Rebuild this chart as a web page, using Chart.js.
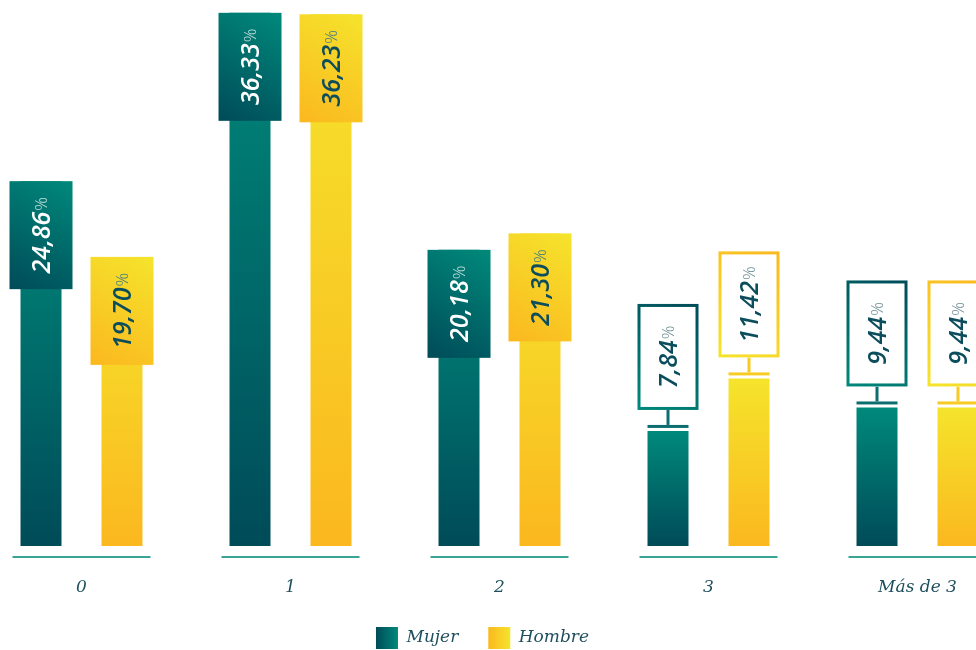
<!DOCTYPE html>
<html><head><meta charset="utf-8">
<script src="https://cdn.jsdelivr.net/npm/chart.js@4"></script>
<style>
html,body{margin:0;padding:0;background:#fff;overflow:hidden;width:976px;height:650px;}
#wrap{position:absolute;left:-57px;top:0;width:1079px;height:659px;}
canvas{display:block;}
</style></head><body>
<div id="wrap"><canvas id="c" width="1079" height="659" style="width:1079px;height:659px"></canvas></div>
<script>
const categories = ['0', '1', '2', '3', 'Más de 3'];
const seriesNames = ['Mujer', 'Hombre'];
const mujer = [24.86, 36.33, 20.18, 7.84, 9.44];
const hombre = [19.70, 36.23, 21.30, 11.42, 9.44];

const TEAL_L = '#00897b', TEAL_D = '#004b58';
const YEL_L = '#f5e42c', YEL_D = '#fbb81f';
const INK = '#0b4d5c';

function barGrad(top, bottom) {
  return (ctx) => {
    const chart = ctx.chart;
    if (!chart.chartArea || ctx.type !== 'data') return bottom;
    const y = chart.scales.y;
    const yt = y.getPixelForValue(ctx.raw), yb = y.getPixelForValue(0);
    const g = chart.ctx.createLinearGradient(0, yt, 0, yb);
    g.addColorStop(0, top); g.addColorStop(1, bottom);
    return g;
  };
}

const styles = [
  {light: TEAL_L, dark: TEAL_D, num: '#ffffff', pct: 'rgba(255,255,255,0.75)', cap: '#0d6e70'},
  {light: YEL_L, dark: YEL_D, num: INK, pct: '#3f7c83', cap: '#f8cb24'}
];

function drawVal(c, cx, cy, v, numColor, pctColor) {
  const num = v.toFixed(2).replace('.', ',');
  c.save();
  c.translate(cx, cy);
  c.rotate(-Math.PI / 2);
  const nf = 'italic 600 25px "Open Sans"', pf = '300 17px "Open Sans"';
  c.font = nf; const nw = c.measureText(num).width;
  c.font = pf; const pw = c.measureText('%').width;
  const total = nw + 1 + pw, sx = -total / 2, base = 9;
  c.textAlign = 'left'; c.textBaseline = 'alphabetic';
  c.font = nf; c.fillStyle = numColor; c.fillText(num, sx, base);
  c.font = pf; c.fillStyle = pctColor; c.fillText('%', sx + nw + 1, base - 3);
  c.restore();
}

const valueBoxes = {
  id: 'valueBoxes',
  afterDatasetsDraw(chart) {
    const c = chart.ctx;
    chart.data.datasets.forEach((ds, di) => {
      const st = styles[di];
      chart.getDatasetMeta(di).data.forEach((bar, i) => {
        const v = ds.data[i];
        const x = bar.x, top = bar.y, base = bar.base, w = bar.width;
        if (base - top > 200) {
          const bw = 63, bh = 108, L = x - bw / 2, T = top;
          const g = c.createLinearGradient(L + bw, T, L, T + bh);
          g.addColorStop(0, st.light); g.addColorStop(1, st.dark);
          c.fillStyle = g; c.fillRect(L, T, bw, bh);
          drawVal(c, x, T + bh / 2, v, st.num, st.pct);
        } else {
          const bw = 61, bh = 106;
          const bottom = top - 21, T = bottom - bh, L = x - bw / 2;
          c.fillStyle = st.cap;
          c.fillRect(x - w / 2, top - 6, w, 3);
          c.fillRect(x - 1.5, bottom, 3, top - 6 - bottom);
          c.fillStyle = '#fff'; c.fillRect(L, T, bw, bh);
          const g = c.createLinearGradient(L + bw, T, L, T + bh);
          g.addColorStop(0, st.dark); g.addColorStop(1, st.light);
          c.strokeStyle = g; c.lineWidth = 3;
          c.strokeRect(L + 1.5, T + 1.5, bw - 3, bh - 3);
          drawVal(c, x, T + bh / 2, v, INK, '#6d8f95');
        }
      });
    });
  },
  afterDraw(chart) {
    const c = chart.ctx, xs = chart.scales.x;
    c.save();
    c.strokeStyle = '#38a596'; c.lineWidth = 2;
    categories.forEach((_, i) => {
      const cx = xs.getPixelForValue(i);
      c.beginPath(); c.moveTo(cx - 69, 557); c.lineTo(cx + 69, 557); c.stroke();
    });
    c.restore();
  },
  beforeDraw(chart) {
    const lg = chart.legend;
    if (!lg || !lg.legendItems || !lg.legendHitBoxes) return;
    const cols = [[TEAL_D, TEAL_L], [YEL_D, YEL_L]];
    lg.legendItems.forEach((it, i) => {
      const hb = lg.legendHitBoxes[i];
      const g = chart.ctx.createLinearGradient(hb.left, 0, hb.left + 22, 0);
      g.addColorStop(0, cols[i][0]); g.addColorStop(1, cols[i][1]);
      it.fillStyle = g;
    });
  }
};

new Chart(document.getElementById('c'), {
  type: 'bar',
  data: {
    labels: categories,
    datasets: [
      {label: seriesNames[0], data: mujer, backgroundColor: barGrad(TEAL_L, TEAL_D), borderWidth: 0},
      {label: seriesNames[1], data: hombre, backgroundColor: barGrad(YEL_L, YEL_D), borderWidth: 0}
    ]
  },
  options: {
    responsive: false,
    animation: false,
    devicePixelRatio: 1,
    categoryPercentage: 0.775,
    barPercentage: 0.5062,
    layout: {padding: {top: 3, left: 0, right: 0, bottom: 0}},
    scales: {
      x: {
        grid: {display: false, drawTicks: false},
        border: {display: false},
        ticks: {padding: 31, color: '#1e4f5e', font: {family: '"DejaVu Serif"', style: 'italic', size: 17}},
        afterFit(s) { s.height = 51; }
      },
      y: {
        min: 0, max: 37,
        grid: {display: false, drawTicks: false},
        border: {display: false},
        ticks: {display: false},
        afterFit(s) { s.width = 34; }
      }
    },
    plugins: {
      tooltip: {enabled: false},
      legend: {
        position: 'bottom',
        labels: {
          boxWidth: 22, boxHeight: 22, padding: 30,
          color: '#1e4f5e',
          font: {family: '"DejaVu Serif"', style: 'italic', size: 17},
          generateLabels(chart) {
            return chart.data.datasets.map((d, i) => ({
              text: d.label, fillStyle: i ? YEL_D : TEAL_D, strokeStyle: 'rgba(0,0,0,0)',
              lineWidth: 0, hidden: false, datasetIndex: i, fontColor: '#1e4f5e'
            }));
          }
        }
      }
    }
  },
  plugins: [valueBoxes]
});
</script>
</body></html>
